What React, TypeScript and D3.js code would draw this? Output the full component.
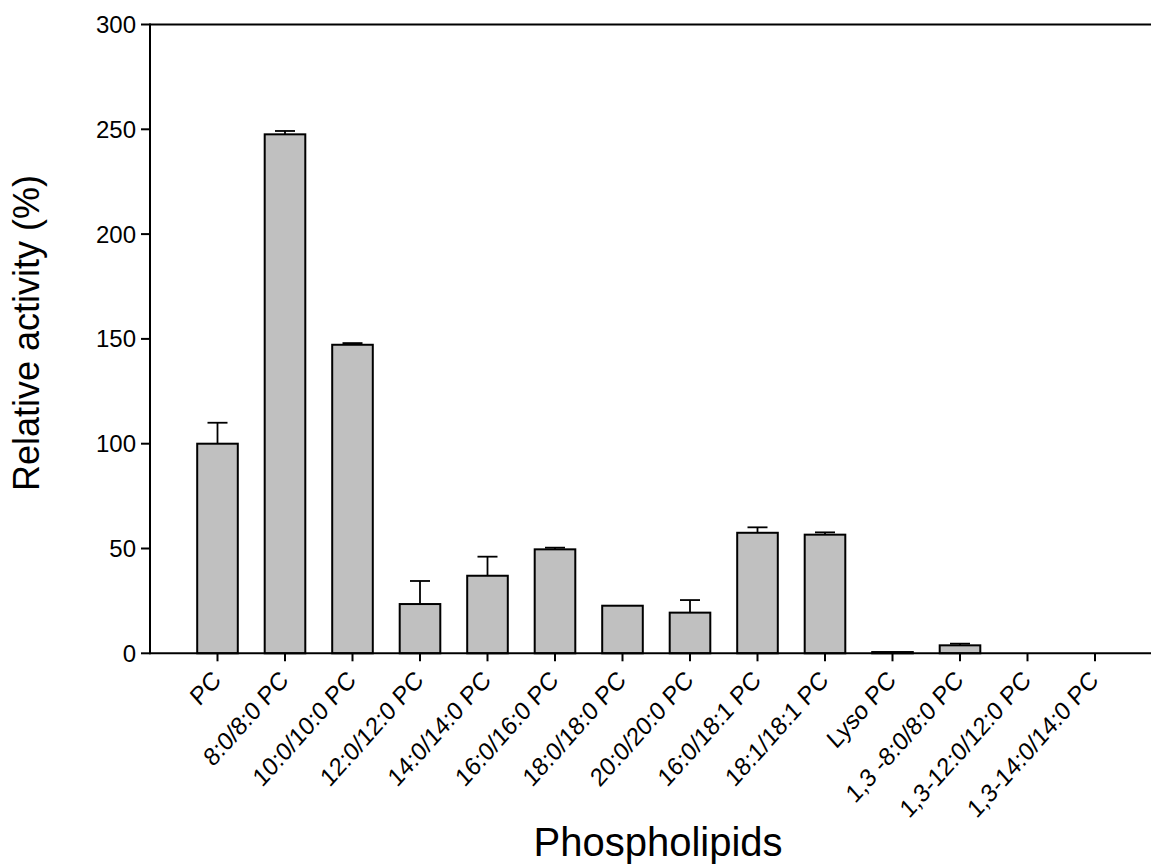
import React from "react";
import * as d3 from "d3";

const categories = [
  "PC",
  "8:0/8:0 PC",
  "10:0/10:0 PC",
  "12:0/12:0 PC",
  "14:0/14:0 PC",
  "16:0/16:0 PC",
  "18:0/18:0 PC",
  "20:0/20:0 PC",
  "16:0/18:1 PC",
  "18:1/18:1 PC",
  "Lyso PC",
  "1,3 -8:0/8:0 PC",
  "1,3-12:0/12:0 PC",
  "1,3-14:0/14:0 PC",
];
const values = [100, 247.6, 147.2, 23.5, 37, 49.6, 22.7, 19.4, 57.5, 56.6, 0.6, 3.8, 0, 0];
const errors = [10, 1.6, 0.8, 11, 9.1, 0.8, 0, 6, 2.6, 1.1, 0, 0.8, 0, 0];
const yTicks = [0, 50, 100, 150, 200, 250, 300];

const W = 1151;
const H = 866;
const FONT = "'Liberation Sans', Arial, sans-serif";

export default function App() {
  const x = d3.scaleLinear().domain([0, categories.length + 1]).range([150, 150 + 67.5 * (categories.length + 1)]);
  const y = d3.scaleLinear().domain([0, 300]).range([653.3, 24.5]);
  const barW = 40.6;
  const capW = 20;
  const y0 = y(0);

  return (
    <svg width={W} height={H} style={{ position: "absolute", left: 0, top: 0, background: "#fff" }} fontFamily={FONT}>
      {values.map((v, i) => {
        const cx = x(i + 1);
        if (v <= 0) return null;
        return (
          <rect key={"b" + i} x={cx - barW / 2} y={y(v)} width={barW} height={y0 - y(v)} fill="#c0c0c0" stroke="#000" strokeWidth={2} />
        );
      })}
      {values.map((v, i) => {
        const e = errors[i];
        if (e <= 0) return null;
        const cx = x(i + 1);
        return (
          <g key={"e" + i} stroke="#000" strokeWidth={1.8}>
            <line x1={cx} x2={cx} y1={y(v)} y2={y(v + e)} />
            <line x1={cx - capW / 2} x2={cx + capW / 2} y1={y(v + e)} y2={y(v + e)} />
          </g>
        );
      })}
      <line x1={150} x2={W} y1={y(300)} y2={y(300)} stroke="#000" strokeWidth={2} />
      <line x1={150} x2={150} y1={y(300) - 1} y2={y0 + 1} stroke="#000" strokeWidth={2} />
      <line x1={150} x2={W} y1={y0} y2={y0} stroke="#000" strokeWidth={2} />
      {yTicks.map((t) => (
        <g key={"yt" + t}>
          <line x1={141} x2={150} y1={y(t)} y2={y(t)} stroke="#000" strokeWidth={2} />
          <text x={136} y={y(t)} dy="0.35em" textAnchor="end" fontSize={24} fill="#000">
            {t}
          </text>
        </g>
      ))}
      {categories.map((c, i) => {
        const cx = x(i + 1);
        return (
          <g key={"xt" + i}>
            <line x1={cx} x2={cx} y1={y0} y2={y0 + 8} stroke="#000" strokeWidth={2} />
            <text
              transform={`translate(${cx - 1},${y0 + 22}) scale(1,1.12) rotate(-45)`}
              textAnchor="end"
              dy="0.35em"
              fontSize={23}
              fill="#000"
            >
              {c}
            </text>
          </g>
        );
      })}
      <text transform={`translate(39,333) rotate(-90)`} textAnchor="middle" fontSize={36} fill="#000">
        Relative activity (%)
      </text>
      <text x={658} y={856} textAnchor="middle" fontSize={40} fill="#000">
        Phospholipids
      </text>
    </svg>
  );
}
